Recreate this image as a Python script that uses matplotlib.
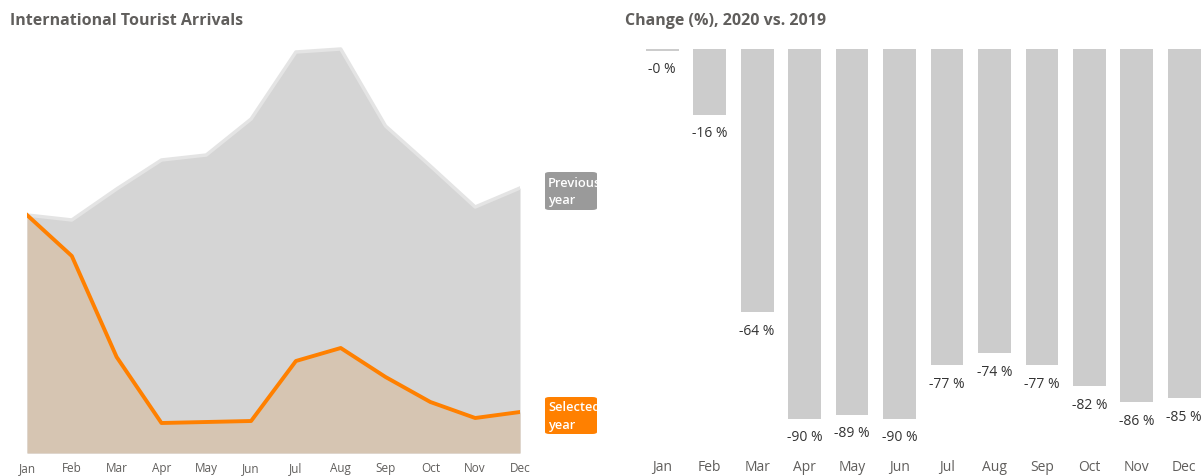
import numpy as np
import matplotlib
matplotlib.use('Agg')
import matplotlib.pyplot as plt
from matplotlib.patches import FancyBboxPatch

months = ['Jan', 'Feb', 'Mar', 'Apr', 'May', 'Jun', 'Jul', 'Aug', 'Sep', 'Oct', 'Nov', 'Dec']
# arrivals (thousands)
previous_year = [238, 233, 264, 293, 298, 334, 401, 404, 327, 287, 246, 265]
selected_year = [238, 197, 96, 30, 31, 32, 92, 105, 76, 51, 35, 41]
# change in %
change = [-0.4, -16, -64, -90, -89, -90, -77, -74, -77, -82, -86, -85]

W, H = 1204, 477
plt.rcParams['font.family'] = ['Open Sans', 'DejaVu Sans']
fig = plt.figure(figsize=(W / 100, H / 100), dpi=100)

def box(x0, y0, x1, y1):
    # pixel box (top-left origin) -> figure rect
    return [x0 / W, 1 - y1 / H, (x1 - x0) / W, (y1 - y0) / H]

title_col = '#605E5C'
fig.text(10 / W, 1 - 21 / H, 'International Tourist Arrivals', fontsize=11.5,
         fontweight='bold', color=title_col, va='center', ha='left')
fig.text(625 / W, 1 - 21 / H, 'Change (%), 2020 vs. 2019', fontsize=11.5,
         fontweight='bold', color=title_col, va='center', ha='left')

# left: area chart
ax1 = fig.add_axes(box(27, 44, 520, 454))
x = np.arange(len(months))
ax1.fill_between(x, previous_year, color='#D5D5D5', lw=0)
ax1.plot(x, previous_year, color='#E4E4E4', lw=2.5, solid_joinstyle='round')
ax1.fill_between(x, selected_year, color='#D6C5B2', lw=0)
ax1.plot(x, selected_year, color='#FF8000', lw=2.8, solid_joinstyle='round')
ax1.set_xlim(0, 11)
ax1.set_ylim(0, 410)
ax1.set_xticks(x)
ax1.set_xticklabels(months, fontsize=8.5, color=title_col)
ax1.tick_params(axis='x', length=0, pad=6)
ax1.set_yticks([])
for s in ax1.spines.values():
    s.set_visible(False)

# series tags at the right end of the area chart (cut off at the visual's edge)
for label, col, (y0, y1) in [('Previous\nyear', '#9A9A9A', (173, 211)),
                             ('Selected\nyear', '#FF8000', (398, 435))]:
    r = box(545, y0, 597, y1)
    p = FancyBboxPatch((r[0], r[1]), r[2], r[3], boxstyle='round,pad=0,rounding_size=0.004',
                       transform=fig.transFigure, facecolor=col, edgecolor='none')
    fig.patches.append(p)
    t = fig.text(548 / W, 1 - (y0 + y1) / 2 / H, label, fontsize=9.3, color='white',
                 fontweight='semibold', va='center', ha='left', linespacing=1.45)
    t.set_clip_path(p)

# right: bar chart of change
ax2 = fig.add_axes(box(638.5, 50, 1208, 461))
ax2.bar(x, change, width=0.69, color='#CCCCCC')
for xi, v in zip(x, change):
    ax2.annotate(f'{v:.0f} %', (xi, v), xytext=(0, -13), textcoords='offset points',
                 ha='center', va='center', fontsize=10, color='#333333')
ax2.set_xlim(-0.5, 11.5)
ax2.set_ylim(-100, 0)
ax2.set_xticks(x)
ax2.set_xticklabels(months, fontsize=10, color=title_col)
ax2.tick_params(axis='x', length=0, pad=-1)
ax2.set_yticks([])
for s in ax2.spines.values():
    s.set_visible(False)

fig.savefig('out.png', dpi=100)
